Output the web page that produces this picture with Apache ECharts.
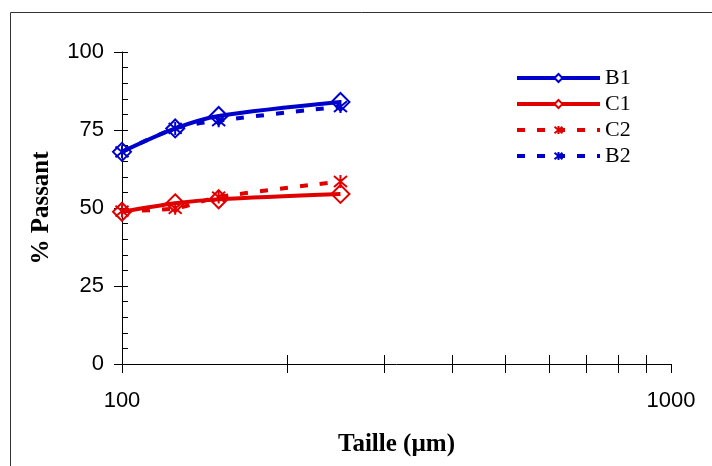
<!DOCTYPE html>
<html>
<head>
<meta charset="utf-8">
<script src="https://cdn.jsdelivr.net/npm/echarts@6/dist/echarts.min.js"></script>
<style>html,body{margin:0;padding:0;background:#fff;}#c{width:712px;height:466px;}</style>
</head>
<body>
<div id="c"></div>
<script>
const sizes = [100, 125, 150, 250];
const B1 = [68, 75.5, 79.5, 84];
const C1 = [48.8, 51.5, 52.8, 54.5];
const C2 = [49, 49.9, 53.5, 58.5];
const B2 = [68, 75.5, 78, 82.5];
const xMinorTicks = [200, 300, 400, 500, 600, 700, 800, 900];
const xTicksAll = [100, 200, 300, 400, 500, 600, 700, 800, 900, 1000];

const BLUE = '#0000CC', RED = '#E00000';
const star = 'path://M0,0L10,10M10,0L0,10M5,-1L5,11';

function pairs(ys) { return sizes.map((x, i) => [x, ys[i]]); }

const chart = echarts.init(document.getElementById('c'));
const sansLabel = { fontFamily: 'Liberation Sans, Arial', fontSize: 22, color: '#000' };
const titleFont = { fontFamily: 'Liberation Serif, Times New Roman', fontWeight: 'bold', fontSize: 25, color: '#000' };
const G = { left: 122, right: 41, top: 52, bottom: 102, containLabel: false };

function lineSeries(name, data, color, dashed, symbol) {
  return {
    name, type: 'line', data: pairs(data), smooth: 0.3,
    symbol, symbolSize: symbol === star ? 13 : 18,
    xAxisIndex: 0, yAxisIndex: 0,
    lineStyle: { color, width: 4, type: dashed ? [8, 12] : 'solid' },
    itemStyle: { color: 'rgba(255,255,255,0)', borderColor: color, borderWidth: 2 },
    emphasis: { disabled: true }
  };
}

chart.setOption({
  animation: false,
  backgroundColor: '#fff',
  graphic: [{ type: 'rect', shape: { x: 10.5, y: 12.5, width: 900, height: 700 },
    style: { fill: 'none', stroke: '#333', lineWidth: 1 }, silent: true }],
  grid: [G, { ...G }],
  legend: {
    orient: 'vertical', left: 515, top: 67, itemWidth: 83, itemHeight: 10, itemGap: 4,
    padding: 0, lineStyle: { width: 4 },
    itemStyle: { color: '#fff', borderWidth: 2 },
    textStyle: { fontFamily: 'Liberation Serif, Times New Roman', fontSize: 22, color: '#000', lineHeight: 22 },
    data: ['B1', 'C1', 'C2', 'B2']
  },
  xAxis: [
    { type: 'log', min: 100, max: 1000, logBase: 10, gridIndex: 0,
      name: 'Taille (µm)', nameLocation: 'middle', nameGap: 68, nameTextStyle: titleFont,
      axisLine: { onZero: false, lineStyle: { color: '#000', width: 1 } },
      axisTick: { show: true, inside: false, length: 9, customValues: xTicksAll, lineStyle: { color: '#000' } },
      axisLabel: { ...sansLabel, margin: 26, formatter: v => String(v) },
      splitLine: { show: false }, minorTick: { show: false } },
    { type: 'log', min: 100, max: 1000, logBase: 10, gridIndex: 1, position: 'bottom',
      axisLine: { show: false, onZero: false },
      axisTick: { show: true, inside: true, length: 9, customValues: xMinorTicks, lineStyle: { color: '#000' } },
      axisLabel: { show: false }, splitLine: { show: false } }
  ],
  yAxis: [
    { type: 'value', min: 0, max: 100, interval: 25, gridIndex: 0,
      name: '% Passant', nameLocation: 'middle', nameGap: 68, nameTextStyle: titleFont,
      axisLine: { show: true, onZero: false, lineStyle: { color: '#000', width: 1 } },
      axisTick: { show: true, inside: true, length: 6, lineStyle: { color: '#000' } },
      minorTick: { show: true, splitNumber: 5, length: 6, lineStyle: { color: '#000' } },
      axisLabel: { ...sansLabel, margin: 18 },
      splitLine: { show: false } },
    { type: 'value', min: 0, max: 100, interval: 25, gridIndex: 1, position: 'left',
      axisLine: { show: false, onZero: false },
      axisTick: { show: true, inside: false, length: 8, lineStyle: { color: '#000' } },
      axisLabel: { show: false }, splitLine: { show: false } }
  ],
  series: [
    lineSeries('B1', B1, BLUE, false, 'diamond'),
    lineSeries('C1', C1, RED, false, 'diamond'),
    lineSeries('C2', C2, RED, true, star),
    lineSeries('B2', B2, BLUE, true, star)
  ]
});
</script>
</body>
</html>
